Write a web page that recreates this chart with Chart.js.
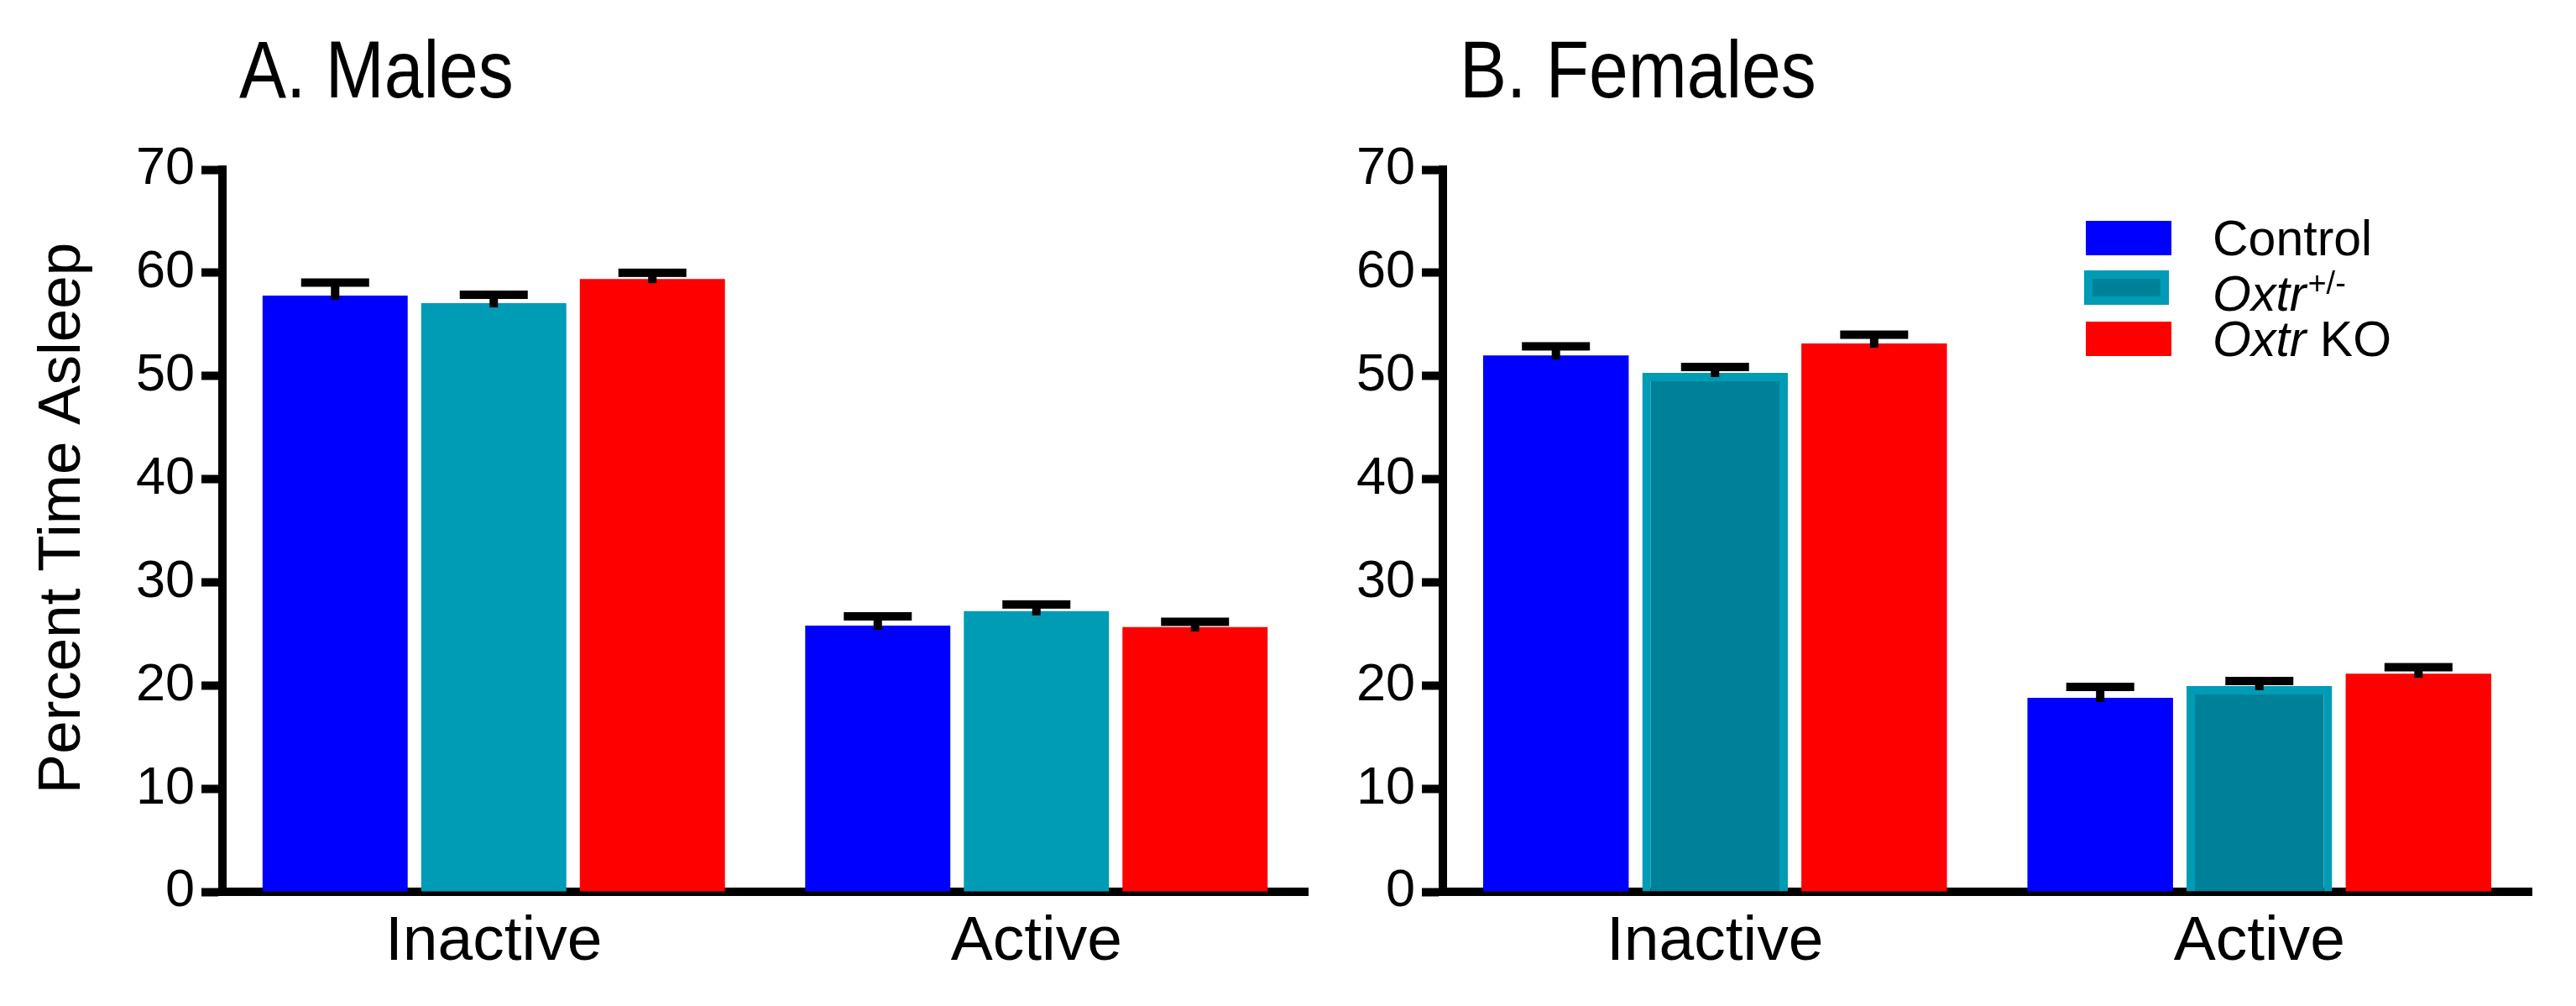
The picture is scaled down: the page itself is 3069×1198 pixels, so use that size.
<!DOCTYPE html>
<html>
<head>
<meta charset="utf-8">
<script src="https://cdn.jsdelivr.net/npm/chart.js@4.4.1/dist/chart.umd.min.js"></script>
<style>
  html, body { margin: 0; padding: 0; background: #ffffff; }
  #wrap { position: relative; width: 3069px; height: 1198px; background: #ffffff; }
  canvas { position: absolute; left: 0; top: 0; }
</style>
</head>
<body>
<div id="wrap">
  <canvas id="males" width="3069" height="1198"></canvas>
  <canvas id="females" width="3069" height="1198"></canvas>
</div>
<script>
// ---------------- DATA ----------------
const categories = ['Inactive', 'Active'];
const groupNames = ['Control', 'Oxtr+/-', 'Oxtr KO'];
const yTicks = [0, 10, 20, 30, 40, 50, 60, 70];

const maleControl = [57.8, 25.8];
const maleControlSem = [1.25, 0.9];
const maleHet = [57.05, 27.2];
const maleHetSem = [0.82, 0.65];
const maleKO = [59.4, 25.65];
const maleKOSem = [0.6, 0.52];

const femaleControl = [52.0, 18.8];
const femaleControlSem = [0.87, 1.06];
const femaleHet = [50.3, 19.95];
const femaleHetSem = [0.57, 0.48];
const femaleKO = [53.15, 21.15];
const femaleKOSem = [0.85, 0.62];

const panelTitles = ['A. Males', 'B. Females'];
const yAxisTitle = 'Percent Time Asleep';

// ---------------- STYLE ----------------
const BLUE = '#0000ff';
const TEAL = '#009bb5';
const TEAL_DARK = '#00819a';
const RED = '#ff0000';
const FONT = '"Liberation Sans", Arial, Helvetica, sans-serif';

Chart.defaults.font.family = FONT;
Chart.defaults.color = '#000000';

const errorBarPlugin = {
  id: 'errorBars',
  afterDatasetsDraw(chart) {
    const ctx = chart.ctx;
    const yScale = chart.scales.y;
    ctx.save();
    ctx.fillStyle = '#000000';
    chart.data.datasets.forEach((ds, i) => {
      const meta = chart.getDatasetMeta(i);
      meta.data.forEach((el, j) => {
        const v = ds.data[j];
        const e = ds.sem[j];
        const yMean = yScale.getPixelForValue(v);
        const yErr = yScale.getPixelForValue(v + e);
        const x = el.x;
        ctx.fillRect(x - 5, yErr, 10, (yMean + 5) - yErr);
        ctx.fillRect(x - 40.5, yErr - 5, 81, 10);
      });
    });
    ctx.restore();
  }
};

function drawScaledText(ctx, text, x, y, font, sx) {
  ctx.save();
  ctx.font = font;
  ctx.textBaseline = 'alphabetic';
  ctx.textAlign = 'left';
  ctx.translate(x, y);
  ctx.scale(sx, 1);
  ctx.fillText(text, 0, 0);
  ctx.restore();
}

const malesDecor = {
  id: 'malesDecor',
  afterDraw(chart) {
    const ctx = chart.ctx;
    ctx.fillStyle = '#000000';
    drawScaledText(ctx, panelTitles[0], 285, 116, '96px ' + FONT, 0.875);
    // y axis title
    ctx.save();
    ctx.font = '71px ' + FONT;
    ctx.textAlign = 'center';
    ctx.textBaseline = 'alphabetic';
    ctx.translate(95, 617);
    ctx.rotate(-Math.PI / 2);
    ctx.fillText(yAxisTitle, 0, 0);
    ctx.restore();
  }
};

const femalesDecor = {
  id: 'femalesDecor',
  afterDraw(chart) {
    const ctx = chart.ctx;
    ctx.save();
    ctx.fillStyle = '#000000';
    drawScaledText(ctx, panelTitles[1], 1739, 116, '96px ' + FONT, 0.875);

    // legend boxes
    ctx.fillStyle = BLUE;
    ctx.fillRect(2485, 263, 102, 41);
    ctx.fillStyle = TEAL;
    ctx.fillRect(2483, 322, 101, 41);
    ctx.fillStyle = TEAL_DARK;
    ctx.fillRect(2493, 332, 81, 21);
    ctx.fillStyle = RED;
    ctx.fillRect(2485, 383, 102, 41);

    // legend labels
    ctx.fillStyle = '#000000';
    ctx.textAlign = 'left';
    ctx.textBaseline = 'alphabetic';
    ctx.font = '59px ' + FONT;
    ctx.fillText(groupNames[0], 2636, 304);

    ctx.font = 'italic 59px ' + FONT;
    ctx.fillText('Oxtr', 2636, 370);
    const wOx = ctx.measureText('Oxtr').width;
    ctx.font = '38px ' + FONT;
    ctx.fillText('+/-', 2636 + wOx + 2, 350);

    ctx.font = 'italic 59px ' + FONT;
    ctx.fillText('Oxtr', 2636, 424);
    const wOx2 = ctx.measureText('Oxtr ').width;
    ctx.font = '59px ' + FONT;
    ctx.fillText('KO', 2636 + wOx2, 424);
    ctx.restore();
  }
};

function makeOptions(padLeft, padRight) {
  return {
    responsive: false,
    maintainAspectRatio: false,
    devicePixelRatio: 1,
    animation: false,
    events: [],
    layout: { padding: { left: padLeft, right: padRight, top: 202, bottom: 26 } },
    plugins: { legend: { display: false }, tooltip: { enabled: false }, title: { display: false } },
    scales: {
      x: {
        type: 'category',
        offset: true,
        z: 1,
        grid: { display: true, drawOnChartArea: false, drawTicks: false },
        border: { display: true, color: '#000000', width: 10 },
        ticks: { font: { size: 75 }, color: '#000000', padding: 15, maxRotation: 0 },
        afterFit(scale) { scale.height = 110; }
      },
      y: {
        min: 0,
        max: 70,
        z: 1,
        afterBuildTicks(scale) { scale.ticks = yTicks.map(v => ({ value: v })); },
        grid: { display: true, drawOnChartArea: false, drawTicks: true, tickLength: 25, tickWidth: 10, tickColor: '#000000' },
        border: { display: true, color: '#000000', width: 10 },
        ticks: { font: { size: 63 }, color: '#000000', padding: 8 },
        afterFit(scale) { scale.width = 140; }
      }
    }
  };
}

const barCommon = { categoryPercentage: 0.877, barPercentage: 0.915, borderSkipped: 'start' };

new Chart(document.getElementById('males'), {
  type: 'bar',
  data: {
    labels: categories,
    datasets: [
      Object.assign({ label: groupNames[0], data: maleControl, sem: maleControlSem, backgroundColor: BLUE, borderWidth: 0 }, barCommon),
      Object.assign({ label: groupNames[1], data: maleHet, sem: maleHetSem, backgroundColor: TEAL, borderWidth: 0 }, barCommon),
      Object.assign({ label: groupNames[2], data: maleKO, sem: maleKOSem, backgroundColor: RED, borderWidth: 0 }, barCommon)
    ]
  },
  options: makeOptions(125, 3069 - 1558),
  plugins: [errorBarPlugin, malesDecor]
});

new Chart(document.getElementById('females'), {
  type: 'bar',
  data: {
    labels: categories,
    datasets: [
      Object.assign({ label: groupNames[0], data: femaleControl, sem: femaleControlSem, backgroundColor: BLUE, borderWidth: 0 }, barCommon),
      Object.assign({ label: groupNames[1], data: femaleHet, sem: femaleHetSem, backgroundColor: TEAL_DARK, borderColor: TEAL, borderWidth: 10 }, barCommon),
      Object.assign({ label: groupNames[2], data: femaleKO, sem: femaleKOSem, backgroundColor: RED, borderWidth: 0 }, barCommon)
    ]
  },
  options: makeOptions(1719 - 140, 3069 - 3016),
  plugins: [errorBarPlugin, femalesDecor]
});
</script>
</body>
</html>
